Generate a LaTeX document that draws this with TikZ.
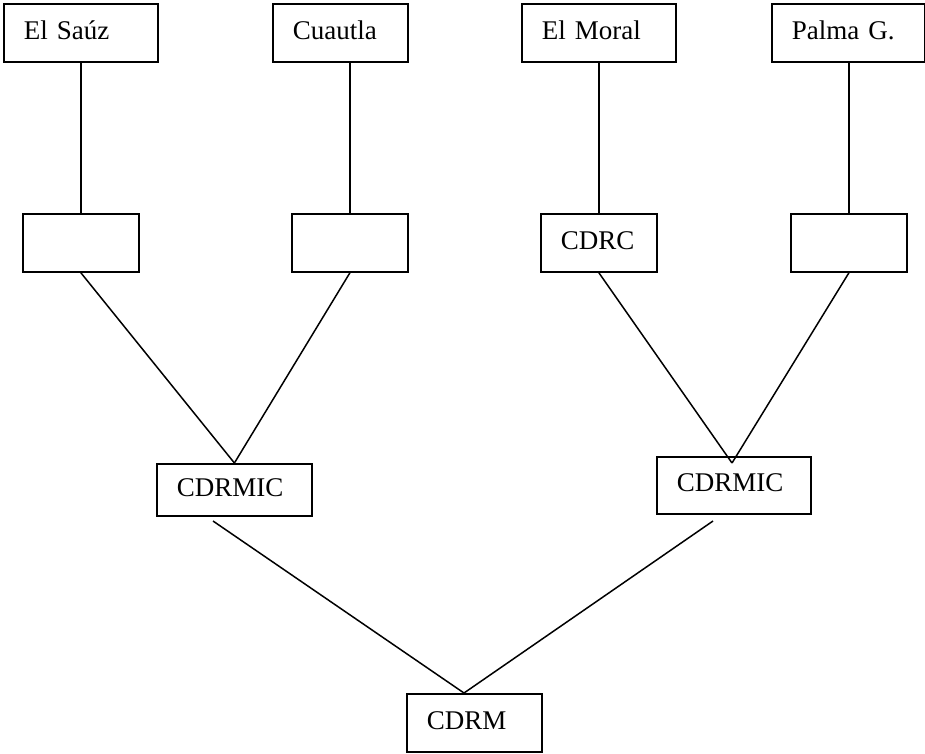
\documentclass[tikz,border=0pt]{standalone}
\usepackage{fontspec}
\setmainfont{Liberation Serif}
\usetikzlibrary{calc}

\tikzset{
	box/.style 2 args={draw, line width=1.8pt, anchor=north west, inner xsep=20pt, inner ysep=0pt, minimum width=#1, minimum height=#2, text width=#1-40, align=left, text height=18pt, text depth=5pt},
	link/.style={line width=1.5pt}
}

\begin{document}
\begin{tikzpicture}[x=1pt, y=-1pt, font=\fontsize{27}{32}\selectfont]
	\useasboundingbox (0,0) rectangle (925,753);
	\node [box={154}{58}] (sauz) at (3,3) {El Saúz};
	\node [box={135}{58}] (cuautla) at (272,3) {Cuautla};
	\node [box={154}{58}] (moral) at (521,3) {El Moral};
	\node [box={153}{58}] (palma) at (771,3) {Palma G.};
	\node [box={116}{58}] (m1) at (22,213) {};
	\node [box={116}{58}] (m2) at (291,213) {};
	\node [box={116}{58}] (cdrc) at (540,213) {CDRC};
	\node [box={116}{58}] (m4) at (790,213) {};
	\node [box={155}{52}] (cdrmicL) at (156,463) {CDRMIC};
	\node [box={154}{57}] (cdrmicR) at (656,456) {CDRMIC};
	\node [box={135}{58}] (cdrm) at (406,693) {CDRM};
	\coordinate (apexR) at (732,463);
	\coordinate (lowL) at (213,521);
	\coordinate (lowR) at (713,521);
	\coordinate (apexM) at (464,693);
	\foreach \t/\m in {sauz/m1, cuautla/m2, moral/cdrc, palma/m4} {
		\draw [link] (\m.north |- \t.south) -- (\m.north);
	}
	\foreach \m in {m1, m2} {
		\draw [link] (\m.south) -- (cdrmicL.north);
	}
	\foreach \m in {cdrc, m4} {
		\draw [link] (\m.south) -- (apexR);
	}
	\draw [link] (lowL) -- (apexM) -- (lowR);
\end{tikzpicture}
\end{document}
